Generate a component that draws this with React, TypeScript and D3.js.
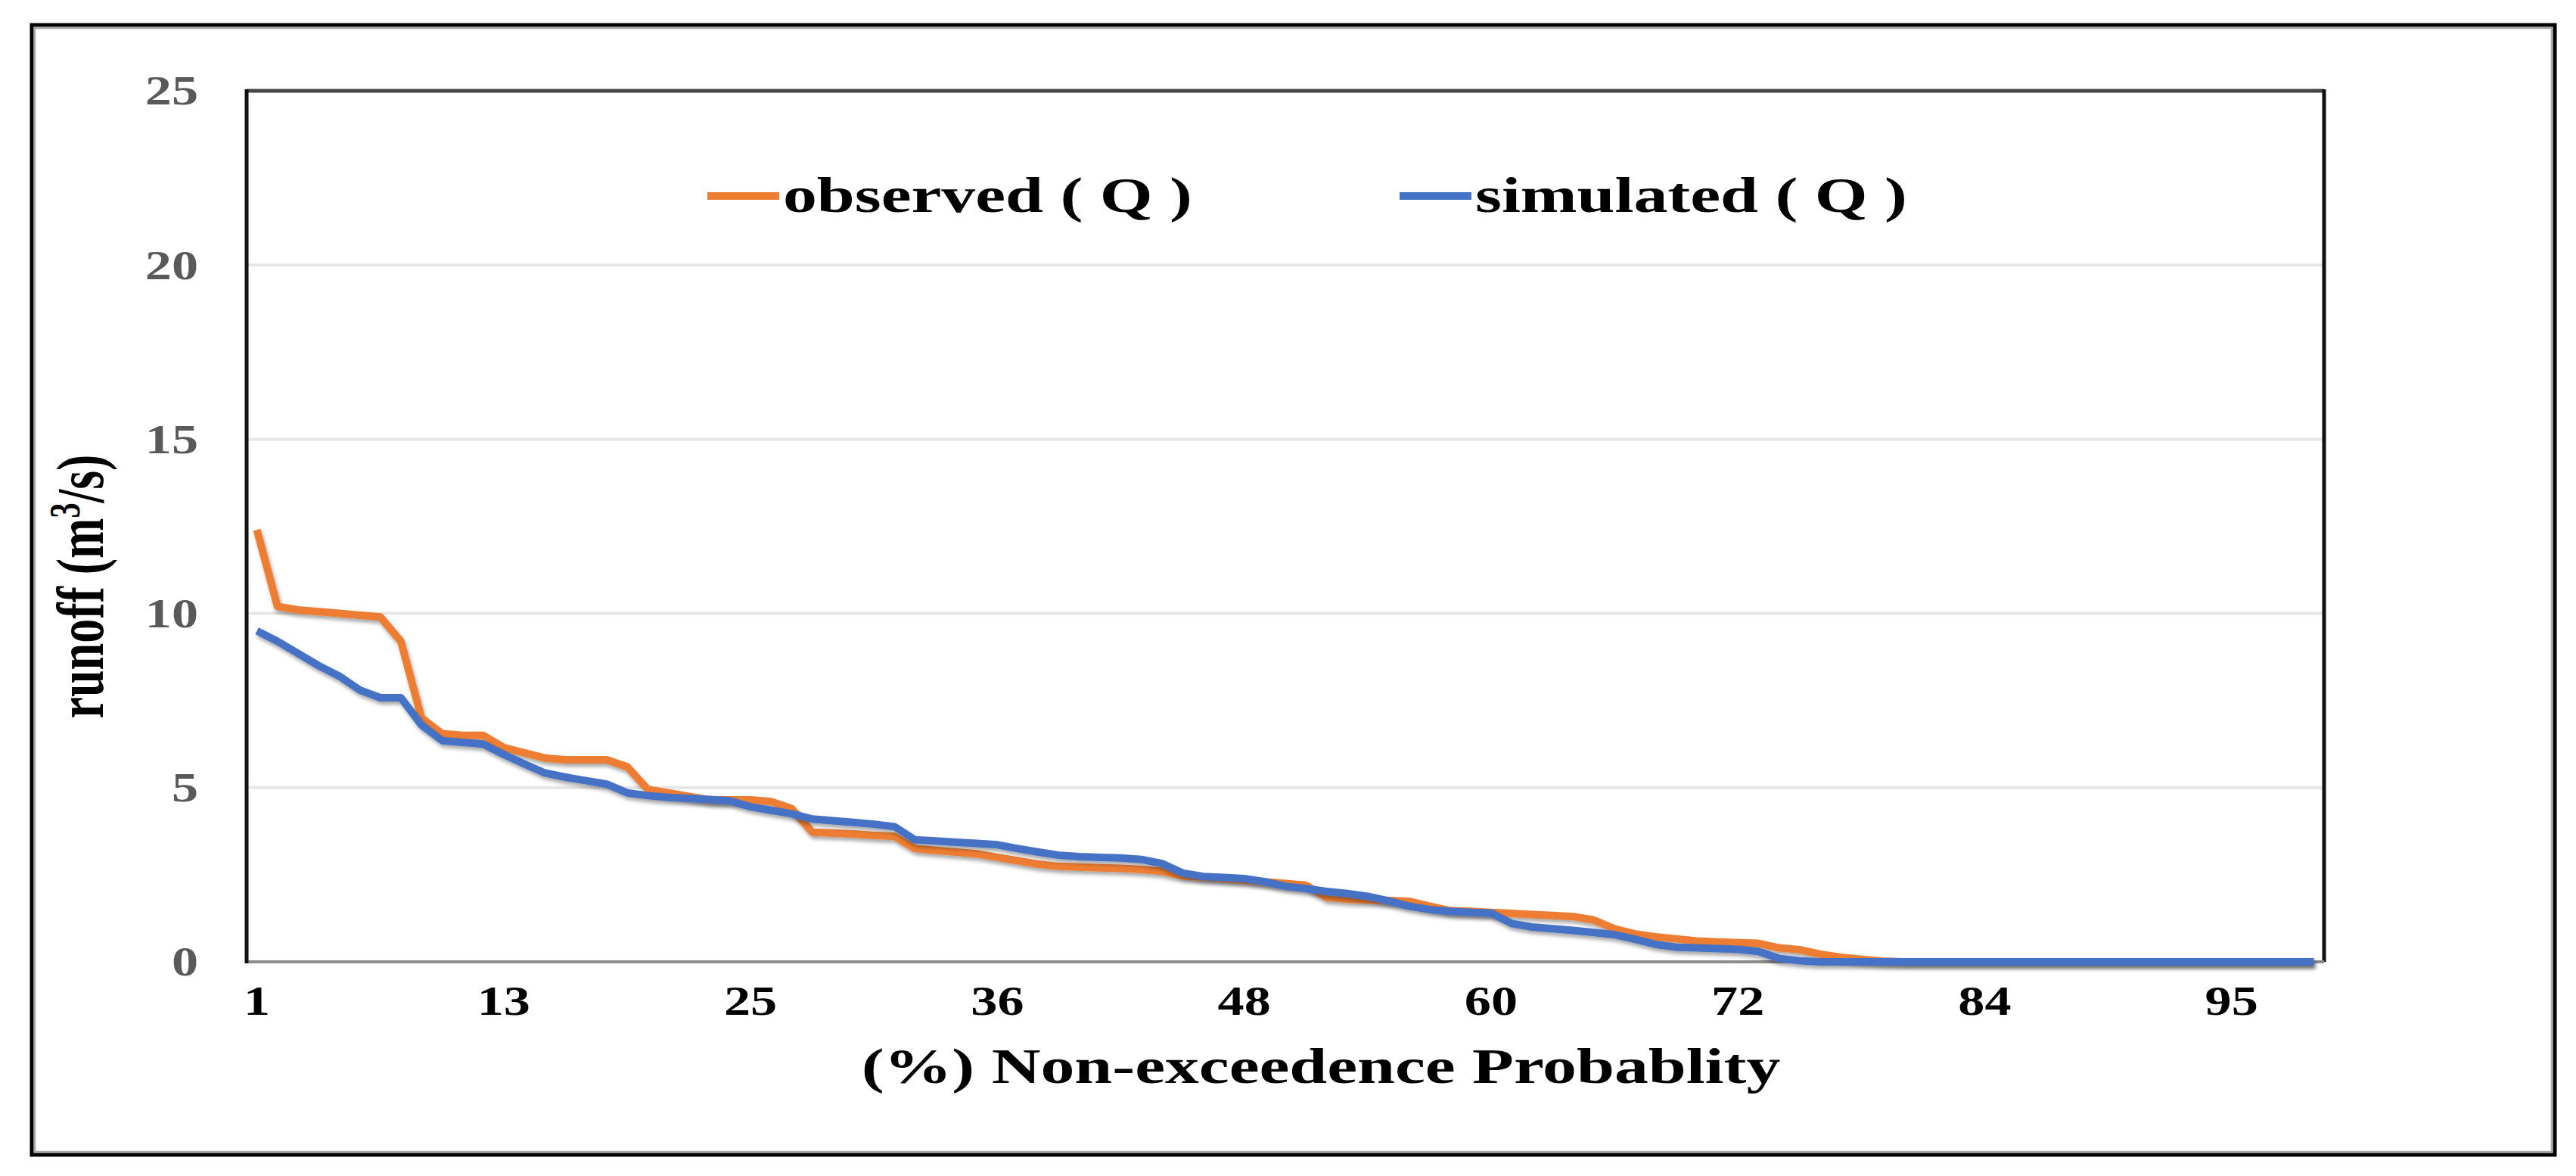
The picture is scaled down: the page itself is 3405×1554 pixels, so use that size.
import * as d3 from 'd3'

// flow duration values, one per category (101 ranks)
const observed = [
  12.4, 10.2, 10.1, 10.05, 10.0, 9.95, 9.9, 9.2, 7.0, 6.55,
  6.5, 6.5, 6.15, 6.0, 5.85, 5.8, 5.8, 5.8, 5.6, 4.95,
  4.85, 4.75, 4.65, 4.65, 4.65, 4.6, 4.4, 3.72, 3.7, 3.67,
  3.63, 3.6, 3.25, 3.2, 3.15, 3.1, 3.0, 2.9, 2.8, 2.74,
  2.72, 2.7, 2.68, 2.65, 2.6, 2.47, 2.43, 2.39, 2.35, 2.3,
  2.25, 2.2, 1.85, 1.8, 1.78, 1.76, 1.74, 1.6, 1.47, 1.45,
  1.42, 1.39, 1.36, 1.33, 1.3, 1.2, 0.95, 0.8, 0.72, 0.66,
  0.6, 0.57, 0.55, 0.53, 0.4, 0.35, 0.22, 0.13, 0.07, 0.02,
  0, 0, 0, 0, 0, 0, 0, 0, 0, 0,
  0, 0, 0, 0, 0, 0, 0, 0, 0, 0,
  0,
]

const simulated = [
  9.5, 9.2, 8.85, 8.5, 8.2, 7.8, 7.58, 7.58, 6.8, 6.35,
  6.3, 6.25, 5.95, 5.68, 5.42, 5.3, 5.2, 5.1, 4.85, 4.77,
  4.72, 4.69, 4.66, 4.62, 4.45, 4.35, 4.25, 4.1, 4.05, 4.0,
  3.95, 3.88, 3.5, 3.47, 3.43, 3.4, 3.36, 3.25, 3.15, 3.06,
  3.02, 3.0, 2.98, 2.94, 2.82, 2.55, 2.45, 2.42, 2.39, 2.3,
  2.17, 2.1, 2.02, 1.96, 1.88, 1.75, 1.6, 1.5, 1.45, 1.42,
  1.4, 1.1, 1.0, 0.95, 0.9, 0.84, 0.78, 0.65, 0.5, 0.42,
  0.4, 0.38, 0.36, 0.3, 0.1, 0.03, 0, 0, 0, 0,
  0, 0, 0, 0, 0, 0, 0, 0, 0, 0,
  0, 0, 0, 0, 0, 0, 0, 0, 0, 0,
  0,
]

const xTickIndex = [1, 13, 25, 37, 49, 61, 73, 85, 97]
const xTickLabels = ['1', '13', '25', '36', '48', '60', '72', '84', '95']
const yTicks = [0, 5, 10, 15, 20, 25]
const seriesNames = ['observed ( Q )', 'simulated ( Q )']
const seriesColors = ['#ED7D31', '#4472C4']

const W = 3405
const H = 1554
const font = "'Liberation Serif', 'Times New Roman', serif"

export default function App() {
  const left = 326, top = 120, right = 3072, bottom = 1271

  const x = d3.scaleLinear().domain([0.5, observed.length + 0.5]).range([left, right])
  const y = d3.scaleLinear().domain([0, 25]).range([bottom, top])

  const makeLine = d3.line<number>()
    .x((_, i) => x(i + 1))
    .y(d => y(d))

  const series = [observed, simulated]
  const legendX = [935, 1850]

  return (
    <svg width={W} height={H} style={{ position: 'absolute', left: 0, top: 0, display: 'block', background: '#fff' }}>
      <defs>
        <filter id="shadow" x="-5%" y="-5%" width="110%" height="120%">
          <feDropShadow dx="2" dy="4" stdDeviation="2.5" floodColor="#000" floodOpacity="0.35" />
        </filter>
      </defs>

      {/* outer frame */}
      <rect x={42} y={33} width={3335} height={1493} fill="#fff" stroke="#000" strokeWidth={5} />
      <rect x={46} y={37} width={3327} height={1485} fill="none" stroke="#a8a8a8" strokeWidth={2.5} />

      {/* gridlines */}
      {yTicks.filter(t => t > 0 && t < 25).map(t => (
        <line key={t} x1={left} x2={right} y1={y(t)} y2={y(t)} stroke="#e6e6e6" strokeWidth={4} />
      ))}

      {/* plot border */}
      <line x1={left} x2={right} y1={top} y2={top} stroke="#444" strokeWidth={5} />
      <line x1={right} x2={right} y1={top - 2} y2={bottom} stroke="#111" strokeWidth={5} />
      <line x1={left} x2={right} y1={bottom} y2={bottom} stroke="#8c8c8c" strokeWidth={4} />
      <line x1={left} x2={left} y1={top - 2} y2={bottom + 2} stroke="#111" strokeWidth={5} />

      {/* y tick labels */}
      {yTicks.map(t => (
        <text key={t} transform={`translate(262,${y(t)}) scale(1.3,1)`} dy="0.34em" textAnchor="end"
          fontFamily={font} fontWeight="bold" fontSize={54} fill="#595959">{t}</text>
      ))}

      {/* x tick labels */}
      {xTickIndex.map((c, i) => (
        <text key={c} transform={`translate(${x(c)},1341) scale(1.3,1)`} textAnchor="middle"
          fontFamily={font} fontWeight="bold" fontSize={54} fill="#000">{xTickLabels[i]}</text>
      ))}

      {/* series */}
      {series.map((s, k) => (
        <path key={k} d={makeLine(s) || ''} fill="none" stroke={seriesColors[k]} strokeWidth={10}
          strokeLinejoin="round" filter="url(#shadow)" />
      ))}

      {/* legend */}
      {seriesNames.map((name, k) => (
        <g key={name}>
          <line x1={legendX[k]} x2={legendX[k] + 95} y1={259} y2={259} stroke={seriesColors[k]} strokeWidth={10} />
          <text transform={`translate(${legendX[k] + 100},280) scale(1.36,1)`} fontFamily={font}
            fontWeight="bold" fontSize={66} fill="#000">{name}</text>
        </g>
      ))}

      {/* axis titles */}
      <text transform="translate(1746,1431) scale(1.36,1)" textAnchor="middle" fontFamily={font}
        fontWeight="bold" fontSize={66} fill="#000">(%) Non-exceedence Probablity</text>
      <text transform="translate(136,775) scale(1.4,1) rotate(-90)" textAnchor="middle" fontFamily={font}
        fontWeight="bold" fontSize={64} fill="#000">
        runoff (m<tspan baselineShift="super" fontSize={40}>3</tspan>/s)
      </text>
    </svg>
  )
}
